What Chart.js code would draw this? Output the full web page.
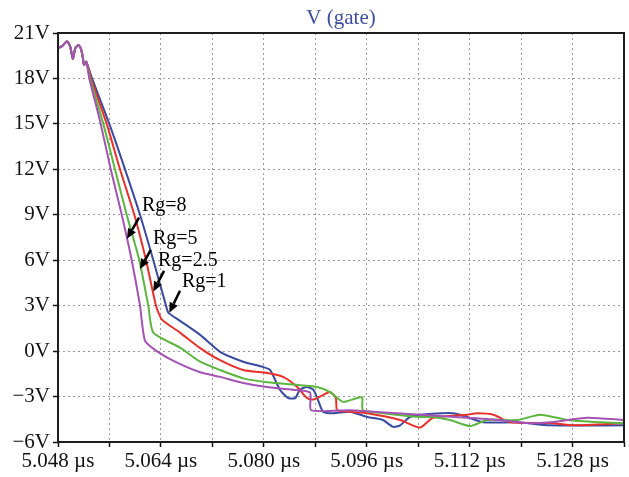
<!DOCTYPE html>
<html><head><meta charset="utf-8">
<script src="https://cdn.jsdelivr.net/npm/chart.js@4/dist/chart.umd.min.js"></script>
<style>html,body{margin:0;padding:0;background:#fff;}canvas{display:block;}</style>
</head><body>
<canvas id="c" width="629" height="477"></canvas>
<script>
const chartTitle = 'V (gate)';

// axis ticks (time in µs, voltage in V)
const timeGrid = [5.048, 5.056, 5.064, 5.072, 5.080, 5.088, 5.096, 5.104, 5.112, 5.120, 5.128, 5.136];
const timeLabels = ['5.048 µs', '', '5.064 µs', '', '5.080 µs', '', '5.096 µs', '', '5.112 µs', '', '5.128 µs', ''];
const voltGrid = [-6, -3, 0, 3, 6, 9, 12, 15, 18, 21];
const voltLabels = ['−6V', '−3V', '0V', '3V', '6V', '9V', '12V', '15V', '18V', '21V'];

// common start (all traces overlap here)
const startTime = [5.04800, 5.04870, 5.04940, 5.04990, 5.05030, 5.05070, 5.05120, 5.05160, 5.05185, 5.05205, 5.05240];
const startVolt = [20.0, 20.15, 20.45, 20.1, 19.3, 20.0, 20.2, 19.9, 19.4, 18.9, 19.1];

// Rg = 8 (purple)
const timeRg8 = [5.05287, 5.05464, 5.05620, 5.05791, 5.05946, 5.06075, 5.06153, 5.06335, 5.06620, 5.07010, 5.07320, 5.07680, 5.08050, 5.08450, 5.08720, 5.08735, 5.09340, 5.09700, 5.10430, 5.11160, 5.11670, 5.12090, 5.12450, 5.13030, 5.13600];
const voltRg8 = [18.0, 15.0, 12.0, 9.0, 6.0, 3.0, 0.67, 0.0, -0.7, -1.4, -1.7, -2.1, -2.37, -2.55, -2.75, -3.9, -3.9, -4.0, -4.2, -4.4, -4.55, -4.75, -4.7, -4.4, -4.55];

// Rg = 5 (green)
const timeRg5 = [5.05298, 5.05505, 5.05686, 5.05868, 5.06064, 5.06204, 5.06282, 5.06697, 5.07010, 5.07320, 5.07680, 5.08050, 5.08560, 5.08830, 5.09030, 5.09230, 5.09450, 5.09530, 5.09540, 5.09850, 5.10430, 5.10630, 5.10896, 5.11210, 5.11470, 5.11940, 5.12296, 5.12720, 5.13230, 5.13600];
const voltRg5 = [18.0, 15.0, 12.0, 9.0, 6.0, 3.0, 1.22, 0.23, -0.7, -1.25, -1.8, -2.05, -2.25, -2.37, -2.7, -3.35, -3.1, -3.05, -3.9, -4.1, -4.35, -4.35, -4.55, -4.95, -4.55, -4.55, -4.2, -4.55, -4.7, -4.75];

// Rg = 2.5 (red)
const timeRg25 = [5.05313, 5.05557, 5.05764, 5.05987, 5.06169, 5.06324, 5.06413, 5.06697, 5.07010, 5.07320, 5.07680, 5.08050, 5.08300, 5.08520, 5.08670, 5.08770, 5.08920, 5.09030, 5.09120, 5.09140, 5.09340, 5.09610, 5.10120, 5.10430, 5.10630, 5.11160, 5.11320, 5.11570, 5.11830, 5.12450, 5.12810, 5.13600];
const voltRg25 = [18.0, 15.0, 12.0, 9.0, 6.0, 3.0, 2.1, 1.22, 0.2, -0.6, -1.25, -1.45, -1.7, -2.37, -3.1, -3.2, -2.9, -2.7, -3.1, -3.9, -4.0, -4.1, -4.55, -5.05, -4.4, -4.2, -4.1, -4.2, -4.7, -4.75, -4.9, -4.75];

// Rg = 1 (blue)
const timeRg1 = [5.05329, 5.05598, 5.05842, 5.06075, 5.06282, 5.06480, 5.06515, 5.06697, 5.07010, 5.07320, 5.07680, 5.07990, 5.08100, 5.08250, 5.08380, 5.08490, 5.08560, 5.08670, 5.08770, 5.08840, 5.08920, 5.09080, 5.09340, 5.09610, 5.09850, 5.10010, 5.10120, 5.10270, 5.10430, 5.10940, 5.11160, 5.11410, 5.11940, 5.12450, 5.13600];
const voltRg1 = [18.0, 15.0, 12.0, 9.0, 6.0, 3.0, 2.54, 2.0, 1.07, -0.05, -0.7, -1.05, -1.25, -2.55, -3.1, -3.1, -2.55, -2.37, -2.55, -3.2, -4.0, -4.1, -4.0, -4.35, -4.55, -5.0, -4.9, -4.35, -4.2, -4.1, -4.35, -4.7, -4.7, -4.9, -4.9];

// callouts (data units: µs, V)
const callouts = [
  { text: 'Rg=8',   textAt: [5.06106, 9.61], from: [5.06060, 8.81], to: [5.05873, 7.42] },
  { text: 'Rg=5',   textAt: [5.06277, 7.42], from: [5.06242, 6.68], to: [5.06075, 5.42] },
  { text: 'Rg=2.5', textAt: [5.06355, 5.97], from: [5.06449, 5.30], to: [5.06282, 3.93] },
  { text: 'Rg=1',   textAt: [5.06728, 4.58], from: [5.06697, 3.98], to: [5.06530, 2.54] }
];

const toPts = (t, v) => startTime.concat(t).map((x, i) => ({ x: x, y: startVolt.concat(v)[i] }));

const overlay = {
  id: 'overlay',
  afterDatasetsDraw(chart) {
    const { ctx, chartArea: a, scales: { x, y } } = chart;
    ctx.save();
    ctx.strokeStyle = '#1e1e1e';
    ctx.lineWidth = 2;
    ctx.strokeRect(a.left, a.top, a.right - a.left, a.bottom - a.top);
    ctx.fillStyle = '#000';
    ctx.strokeStyle = '#000';
    ctx.font = '20px "Liberation Serif", "Times New Roman", serif';
    ctx.textBaseline = 'middle';
    ctx.textAlign = 'left';
    for (const c of callouts) {
      ctx.fillText(c.text, x.getPixelForValue(c.textAt[0]), y.getPixelForValue(c.textAt[1]));
      const x1 = x.getPixelForValue(c.from[0]), y1 = y.getPixelForValue(c.from[1]);
      const x2 = x.getPixelForValue(c.to[0]), y2 = y.getPixelForValue(c.to[1]);
      const ang = Math.atan2(y2 - y1, x2 - x1);
      const L = 10, W = 4.5;
      const bx = x2 - L * Math.cos(ang), by = y2 - L * Math.sin(ang);
      ctx.lineWidth = 2.5;
      ctx.beginPath(); ctx.moveTo(x1, y1); ctx.lineTo(bx, by); ctx.stroke();
      ctx.beginPath();
      ctx.moveTo(x2, y2);
      ctx.lineTo(bx - W * Math.sin(ang), by + W * Math.cos(ang));
      ctx.lineTo(bx + W * Math.sin(ang), by - W * Math.cos(ang));
      ctx.closePath(); ctx.fill();
    }
    ctx.fillStyle = '#3d4d9e';
    ctx.font = '21px "Liberation Serif", "Times New Roman", serif';
    ctx.textAlign = 'center';
    ctx.fillText(chartTitle, (a.left + a.right) / 2, 18);
    ctx.restore();
  }
};

const tickFont = { family: '"Liberation Serif", "Times New Roman", serif', size: 21 };
const lineStyle = { pointRadius: 0, borderWidth: 2, tension: 0.2, fill: false };

new Chart(document.getElementById('c'), {
  type: 'line',
  data: {
    datasets: [
      Object.assign({ label: 'Rg=8', data: toPts(timeRg8, voltRg8), borderColor: '#a353b3' }, lineStyle),
      Object.assign({ label: 'Rg=5', data: toPts(timeRg5, voltRg5), borderColor: '#5cb53e' }, lineStyle),
      Object.assign({ label: 'Rg=2.5', data: toPts(timeRg25, voltRg25), borderColor: '#e8302a' }, lineStyle),
      Object.assign({ label: 'Rg=1', data: toPts(timeRg1, voltRg1), borderColor: '#3a4aa0' }, lineStyle)
    ]
  },
  options: {
    responsive: false,
    devicePixelRatio: 1,
    animation: false,
    layout: { padding: { top: 33, right: 5, left: 0, bottom: 0 } },
    plugins: { legend: { display: false }, tooltip: { enabled: false }, title: { display: false } },
    scales: {
      x: {
        type: 'linear',
        min: timeGrid[0],
        max: timeGrid[timeGrid.length - 1],
        afterBuildTicks: s => { s.ticks = timeGrid.map(v => ({ value: v })); },
        afterFit: s => { s.height = 35; },
        ticks: {
          autoSkip: false, maxRotation: 0, minRotation: 0,
          padding: 2, color: '#111', font: tickFont,
          callback: (v, i) => timeLabels[i]
        },
        grid: { color: '#999', lineWidth: 1, tickLength: 5, tickColor: '#111', tickWidth: 1.5, tickBorderDash: [] },
        border: { display: false, dash: [2, 3] }
      },
      y: {
        type: 'linear',
        min: voltGrid[0],
        max: voltGrid[voltGrid.length - 1],
        afterBuildTicks: s => { s.ticks = voltGrid.map(v => ({ value: v })); },
        afterFit: s => { s.width = 58; },
        ticks: {
          autoSkip: false, padding: 3, color: '#111', font: tickFont,
          callback: (v, i) => voltLabels[i]
        },
        grid: { color: '#999', lineWidth: 1, tickLength: 5, tickColor: '#111', tickWidth: 1.5, tickBorderDash: [] },
        border: { display: false, dash: [2, 3] }
      }
    }
  },
  plugins: [overlay]
});
</script>
</body></html>
